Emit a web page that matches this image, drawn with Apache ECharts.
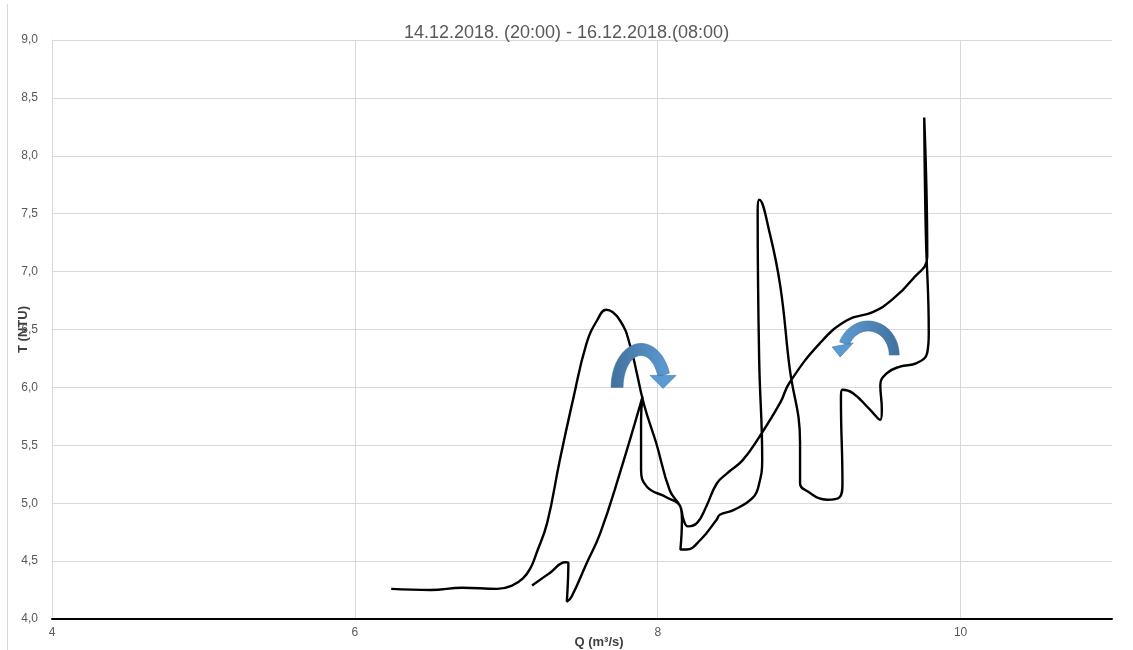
<!DOCTYPE html>
<html>
<head>
<meta charset="utf-8">
<script src="https://cdn.jsdelivr.net/npm/echarts@6/dist/echarts.min.js"></script>
<style>
  html, body { margin: 0; padding: 0; background: #fff; }
  #chart { width: 1133px; height: 650px; }
</style>
</head>
<body>
<div id="chart"></div>
<script>
// Q–turbidity hysteresis, 14.12.2018 20:00 -> 16.12.2018 08:00
const TITLE = '14.12.2018. (20:00) - 16.12.2018.(08:00)'
const FONT = '"Liberation Sans", "DejaVu Sans", sans-serif'

// discharge Q (m3/s), in path order
const qValues = [
  6.24, 6.50, 6.71, 6.94, 7.04, 7.11, 7.16, 7.20, 7.27, 7.35,
  7.44, 7.53, 7.60, 7.66, 7.75, 7.82, 7.91, 7.99, 8.08, 8.15,
  8.17, 8.20, 8.26, 8.32, 8.39, 8.46, 8.56, 8.67, 8.81, 8.87,
  9.07, 9.25, 9.42, 9.55, 9.68, 9.78, 9.76, 9.77, 9.79, 9.78,
  9.71, 9.60, 9.51, 9.47, 9.48, 9.47, 9.40, 9.29, 9.22, 9.21,
  9.22, 9.20, 9.12, 8.98, 8.94, 8.94, 8.87, 8.81, 8.74, 8.67,
  8.66, 8.67, 8.69, 8.67, 8.63, 8.50, 8.41, 8.39, 8.28, 8.19,
  8.15, 8.16, 8.15, 8.06, 7.93, 7.89, 7.89, 7.90, 7.75, 7.62,
  7.53, 7.43, 7.40, 7.41, 7.39, 7.29, 7.17
]
// turbidity (NTU), same order
const tuValues = [
  4.26, 4.25, 4.27, 4.26, 4.29, 4.35, 4.44, 4.57, 4.83, 5.35,
  5.89, 6.38, 6.58, 6.67, 6.58, 6.35, 5.85, 5.52, 5.11, 4.97,
  4.86, 4.80, 4.83, 4.97, 5.17, 5.26, 5.37, 5.57, 5.87, 6.04,
  6.38, 6.58, 6.65, 6.76, 6.93, 7.13, 8.33, 7.36, 6.47, 6.30,
  6.21, 6.18, 6.12, 6.02, 5.81, 5.72, 5.81, 5.95, 5.98, 5.89,
  5.17, 5.05, 5.03, 5.11, 5.17, 5.52, 6.18, 6.87, 7.33, 7.62,
  7.52, 6.24, 5.37, 5.17, 5.05, 4.94, 4.90, 4.86, 4.68, 4.60,
  4.60, 4.86, 4.97, 5.05, 5.14, 5.29, 5.72, 5.92, 5.26, 4.74,
  4.48, 4.19, 4.15, 4.48, 4.49, 4.40, 4.29
]

// direction arrows: anchor (Q, T) and turn (1 = clockwise, -1 = counter-clockwise)
const arrowQ = [7.89, 9.39]
const arrowT = [6.00, 6.28]
const arrowTurn = [1, -1]

const xTicks = [4, 11, 2]       // min, max, interval
const yTicks = [4, 9, 0.5]

const pathData = qValues.map((q, i) => [q, tuValues[i]])
const arrowData = arrowQ.map((q, i) => [q, arrowT[i], arrowTurn[i]])

function bandPoints(cx, cy, rx, ry, w, a0, a1) {
  const outer = [], inner = []
  const n = 24
  for (let k = 0; k <= n; k++) {
    const a = (a0 + (a1 - a0) * k / n) * Math.PI / 180
    outer.push([cx + (rx + w / 2) * Math.cos(a), cy - (ry + w / 2) * Math.sin(a)])
    inner.push([cx + (rx - w / 2) * Math.cos(a), cy - (ry - w / 2) * Math.sin(a)])
  }
  return outer.concat(inner.reverse())
}

function renderArrow(params, api) {
  const c = api.coord([api.value(0), api.value(1)])
  const turn = api.value(2)
  const dark = '#41719C', light = '#5B9BD5'
  let band, head, stops
  if (turn > 0) {
    band = bandPoints(c[0], c[1], 24, 38, 12, 180, 19)
    head = [[c[0] + 9, c[1] - 12], [c[0] + 35, c[1] - 12], [c[0] + 22, c[1] + 1]]
    stops = [{ offset: 0, color: dark }, { offset: 1, color: light }]
  } else {
    band = bandPoints(c[0], c[1], 26, 29, 10, 0, 157)
    head = [[c[0] - 36, c[1] - 8], [c[0] - 15, c[1] - 12], [c[0] - 28, c[1] + 2]]
    stops = [{ offset: 0, color: light }, { offset: 1, color: dark }]
  }
  const fill = { type: 'linear', x: 0, y: 0, x2: 1, y2: 0, colorStops: stops }
  return {
    type: 'group',
    children: [
      { type: 'polygon', shape: { points: band }, style: { fill, stroke: dark, lineWidth: 0.6 } },
      { type: 'polygon', shape: { points: head }, style: { fill: light, stroke: dark, lineWidth: 0.6 } }
    ]
  }
}

const comma = v => v.toFixed(1).replace('.', ',')

const chart = echarts.init(document.getElementById('chart'), null, { renderer: 'canvas' })
chart.setOption({
  animation: false,
  textStyle: { fontFamily: FONT },
  title: {
    text: TITLE, left: 'center', top: 19,
    textStyle: { color: '#595959', fontSize: 18, fontWeight: 'normal', fontFamily: FONT }
  },
  grid: { left: 52, right: 21, top: 40, bottom: 31, containLabel: false, outerBoundsMode: 'none' },
  xAxis: {
    type: 'value', min: xTicks[0], max: xTicks[1], interval: xTicks[2],
    name: 'Q (m³/s)', nameLocation: 'middle', nameGap: 17, nameMoveOverlap: false,
    nameTextStyle: { color: '#404040', fontSize: 13, fontWeight: 'bold', padding: [0, 0, 0, 34] },
    axisLine: { lineStyle: { color: '#000', width: 2 } },
    axisTick: { show: false },
    axisLabel: { color: '#595959', fontSize: 12, margin: 8, showMaxLabel: false },
    splitLine: { show: true, showMaxLine: false, lineStyle: { color: '#d9d9d9', width: 1 } }
  },
  yAxis: {
    type: 'value', min: yTicks[0], max: yTicks[1], interval: yTicks[2],
    name: 'T (NTU)', nameLocation: 'middle', nameGap: 22, nameRotate: 90, nameMoveOverlap: false,
    nameTextStyle: { color: '#404040', fontSize: 13, fontWeight: 'bold' },
    axisLine: { show: true, lineStyle: { color: '#d9d9d9', width: 1 } },
    axisTick: { show: false },
    axisLabel: { color: '#595959', fontSize: 12, margin: 14, formatter: comma },
    splitLine: { lineStyle: { color: '#d9d9d9', width: 1 } }
  },
  graphic: [
    { type: 'line', shape: { x1: 7.5, y1: 4, x2: 7.5, y2: 650 }, style: { stroke: '#d9d9d9', lineWidth: 1 } }
  ],
  series: [
    {
      type: 'line', data: pathData, smooth: 0.45, symbol: 'none',
      lineStyle: { color: '#000', width: 2.4 }, z: 3
    },
    {
      type: 'custom', data: arrowData, renderItem: renderArrow, z: 4, silent: true
    }
  ]
})
</script>
</body>
</html>
